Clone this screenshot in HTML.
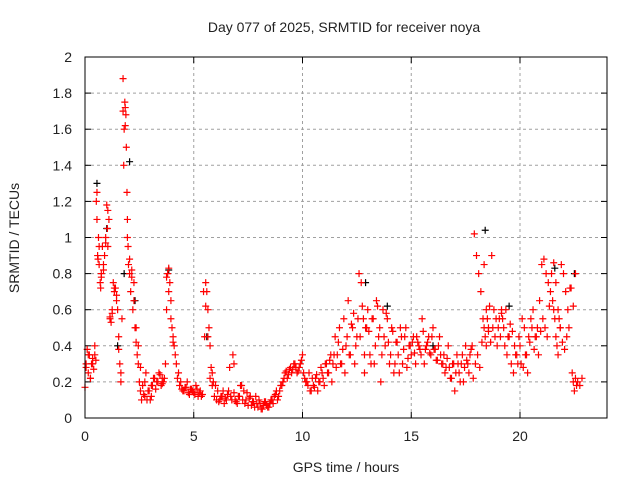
<!DOCTYPE html>
<html><head><meta charset="utf-8"><style>
body{margin:0;background:#fff}
svg text{font-family:"Liberation Sans",sans-serif;font-size:14px;fill:#222}
</style></head><body>
<svg id="c" width="640" height="480">
<text x="344" y="32" text-anchor="middle">Day 077 of 2025, SRMTID for receiver noya</text>
<text x="346" y="472" text-anchor="middle">GPS time / hours</text>
<text x="19" y="238" text-anchor="middle" transform="rotate(-90 19 238)">SRMTID / TECUs</text>
<g id="grid"></g><g id="ticks"></g><g id="pts"></g>
<rect x="85" y="57" width="522" height="361" fill="none" stroke="#000" stroke-width="1"/>
</svg>
<script>
const xTicks=[0,5,10,15,20];
const yTicks=[0,0.2,0.4,0.6,0.8,1,1.2,1.4,1.6,1.8,2];
const yTickLabels=["0","0.2","0.4","0.6","0.8","1","1.2","1.4","1.6","1.8","2"];
const redT=[0.0,0.05,0.1,0.15,0.2,0.25,0.3,0.35,0.4,0.45,0.5,0.52,0.55,0.58,0.6,0.62,0.65,0.7,0.72,0.75,0.8,0.85,0.9,0.95,1.0,1.03,1.05,1.1,1.15,1.2,1.25,1.3,1.35,1.4,1.45,1.5,1.55,1.6,1.65,1.7,1.75,1.78,1.8,1.83,1.85,1.88,1.9,1.93,1.95,1.98,2.0,2.05,2.1,2.15,2.2,2.25,2.3,2.35,2.4,2.45,2.5,2.55,2.6,2.7,2.75,2.8,2.9,3.0,3.05,3.1,3.2,3.3,3.4,3.5,3.55,3.6,3.7,3.75,3.8,3.85,3.9,3.95,4.0,4.05,4.1,4.2,4.3,4.4,4.5,4.6,4.7,4.8,4.9,5.0,5.1,5.2,5.3,5.4,5.5,5.55,5.6,5.65,5.7,5.75,5.8,5.85,5.9,6.0,6.1,6.2,6.3,6.4,6.5,6.6,6.7,6.8,6.85,6.9,7.0,7.1,7.2,7.3,7.4,7.5,7.6,7.7,7.8,7.9,8.0,8.1,8.2,8.3,8.4,8.5,8.6,8.7,8.8,8.9,9.0,9.1,9.2,9.3,9.4,9.5,9.6,9.7,9.8,9.9,10.0,10.1,10.2,10.3,10.4,10.5,10.6,10.7,10.8,10.9,11.0,11.1,11.2,11.3,11.4,11.5,11.6,11.7,11.8,11.9,12.0,12.1,12.2,12.3,12.4,12.5,12.6,12.7,12.8,12.85,12.9,13.0,13.1,13.2,13.3,13.4,13.5,13.6,13.7,13.8,13.9,14.0,14.1,14.2,14.3,14.4,14.5,14.6,14.7,14.8,14.9,15.0,15.1,15.2,15.3,15.4,15.5,15.6,15.7,15.8,15.9,16.0,16.1,16.2,16.3,16.4,16.5,16.6,16.7,16.8,16.9,17.0,17.1,17.2,17.3,17.4,17.5,17.6,17.7,17.8,17.9,18.0,18.1,18.2,18.3,18.35,18.4,18.45,18.5,18.55,18.6,18.7,18.8,18.9,19.0,19.1,19.15,19.2,19.3,19.4,19.5,19.6,19.7,19.8,19.9,20.0,20.1,20.2,20.3,20.4,20.5,20.6,20.7,20.8,20.9,21.0,21.1,21.2,21.3,21.4,21.5,21.55,21.6,21.65,21.7,21.75,21.8,21.85,21.9,22.0,22.1,22.2,22.3,22.4,22.45,22.5,22.55,22.6,22.65,22.7,22.75,22.8,22.85,22.9];
const redV=[0.17,0.3,0.38,0.25,0.35,0.22,0.3,0.33,0.27,0.35,0.32,1.2,1.1,0.9,0.88,1.0,0.85,0.75,0.72,0.8,0.95,0.82,0.9,0.97,1.18,1.05,0.95,1.1,0.56,0.53,0.6,0.75,0.7,0.72,0.65,0.6,0.45,0.3,0.2,0.55,1.88,1.4,1.6,1.75,1.72,1.68,1.5,1.25,1.0,0.95,0.85,0.8,0.7,0.82,0.6,0.75,0.5,0.42,0.35,0.3,0.2,0.15,0.1,0.13,0.2,0.25,0.15,0.1,0.12,0.18,0.22,0.2,0.25,0.18,0.22,0.2,0.3,0.6,0.8,0.83,0.75,0.65,0.5,0.45,0.4,0.3,0.25,0.2,0.15,0.17,0.2,0.13,0.16,0.14,0.18,0.12,0.15,0.13,0.45,0.75,0.7,0.6,0.5,0.4,0.28,0.25,0.2,0.18,0.15,0.1,0.12,0.08,0.1,0.15,0.12,0.35,0.3,0.1,0.08,0.12,0.18,0.15,0.1,0.07,0.12,0.09,0.06,0.08,0.1,0.05,0.07,0.09,0.06,0.08,0.1,0.12,0.15,0.12,0.18,0.2,0.25,0.22,0.27,0.25,0.3,0.28,0.26,0.3,0.35,0.22,0.2,0.25,0.15,0.18,0.22,0.15,0.2,0.25,0.18,0.3,0.25,0.35,0.3,0.45,0.35,0.5,0.3,0.55,0.4,0.65,0.35,0.5,0.3,0.45,0.8,0.75,0.55,0.25,0.5,0.6,0.35,0.55,0.3,0.65,0.45,0.2,0.6,0.4,0.55,0.3,0.5,0.25,0.42,0.35,0.5,0.3,0.45,0.28,0.4,0.35,0.45,0.3,0.42,0.38,0.55,0.3,0.4,0.45,0.35,0.5,0.38,0.32,0.45,0.3,0.35,0.28,0.4,0.22,0.3,0.15,0.35,0.25,0.3,0.2,0.4,0.3,0.35,0.4,1.02,0.9,0.8,0.7,0.55,0.5,0.45,0.4,0.55,0.5,0.62,0.9,0.6,0.55,0.5,0.45,0.6,0.55,0.4,0.35,0.45,0.3,0.25,0.35,0.3,0.4,0.55,0.5,0.35,0.45,0.55,0.6,0.45,0.5,0.65,0.85,0.88,0.8,0.75,0.7,0.65,0.6,0.55,0.45,0.4,0.35,0.55,0.5,0.85,0.8,0.7,0.6,0.72,0.25,0.2,0.15,0.22,0.18];
const redT2=[0.05,0.15,0.25,0.35,0.45,0.55,0.65,0.75,0.85,0.95,1.05,1.15,1.25,1.35,1.45,1.55,1.65,1.75,1.85,1.95,2.05,2.15,2.25,2.35,2.45,2.55,2.65,2.75,2.85,2.95,3.05,3.15,3.25,3.35,3.45,3.55,3.65,3.75,3.85,3.95,4.05,4.15,4.25,4.35,4.45,4.55,4.65,4.75,4.85,4.95,5.05,5.15,5.25,5.35,5.45,5.55,5.65,5.75,5.85,5.95,6.05,6.15,6.25,6.35,6.45,6.55,6.65,6.75,6.85,6.95,7.05,7.15,7.25,7.35,7.45,7.55,7.65,7.75,7.85,7.95,8.05,8.15,8.25,8.35,8.45,8.55,8.65,8.75,8.85,8.95,9.05,9.15,9.25,9.35,9.45,9.55,9.65,9.75,9.85,9.95,10.05,10.15,10.25,10.35,10.45,10.55,10.65,10.75,10.85,10.95,11.05,11.15,11.25,11.35,11.45,11.55,11.65,11.75,11.85,11.95,12.05,12.15,12.25,12.35,12.45,12.55,12.65,12.75,12.85,12.95,13.05,13.15,13.25,13.35,13.45,13.55,13.65,13.75,13.85,13.95,14.05,14.15,14.25,14.35,14.45,14.55,14.65,14.75,14.85,14.95,15.05,15.15,15.25,15.35,15.45,15.55,15.65,15.75,15.85,15.95,16.05,16.15,16.25,16.35,16.45,16.55,16.65,16.75,16.85,16.95,17.05,17.15,17.25,17.35,17.45,17.55,17.65,17.75,17.85,17.95,18.05,18.15,18.25,18.35,18.45,18.55,18.65,18.75,18.85,18.95,19.05,19.15,19.25,19.35,19.45,19.55,19.65,19.75,19.85,19.95,20.05,20.15,20.25,20.35,20.45,20.55,20.65,20.75,20.85,20.95,21.05,21.15,21.25,21.35,21.45,21.55,21.65,21.75,21.85,21.95,22.05,22.15,22.25,22.35,22.45,22.55,22.65,22.75,22.85];
const redV2=[0.28,0.35,0.22,0.3,0.4,1.25,0.95,0.78,0.85,1.0,1.15,0.55,0.58,0.72,0.68,0.38,0.25,1.7,1.62,1.1,0.88,0.78,0.65,0.5,0.4,0.28,0.18,0.12,0.1,0.15,0.18,0.22,0.16,0.2,0.24,0.19,0.22,0.78,0.7,0.55,0.42,0.35,0.22,0.18,0.16,0.15,0.17,0.14,0.16,0.15,0.13,0.16,0.14,0.12,0.7,0.62,0.45,0.22,0.18,0.12,0.1,0.09,0.12,0.15,0.11,0.13,0.28,0.1,0.14,0.09,0.12,0.18,0.1,0.08,0.14,0.11,0.07,0.09,0.12,0.06,0.08,0.05,0.09,0.07,0.06,0.1,0.08,0.13,0.1,0.15,0.18,0.22,0.26,0.24,0.28,0.27,0.3,0.25,0.28,0.32,0.25,0.2,0.18,0.15,0.22,0.17,0.24,0.2,0.28,0.22,0.3,0.25,0.32,0.2,0.35,0.28,0.42,0.3,0.38,0.25,0.45,0.35,0.52,0.58,0.4,0.55,0.45,0.62,0.35,0.5,0.48,0.3,0.55,0.4,0.62,0.5,0.35,0.45,0.58,0.42,0.35,0.48,0.3,0.42,0.25,0.45,0.38,0.5,0.33,0.4,0.42,0.36,0.45,0.4,0.35,0.48,0.38,0.42,0.36,0.45,0.38,0.32,0.4,0.35,0.3,0.25,0.33,0.28,0.22,0.3,0.25,0.3,0.2,0.35,0.28,0.32,0.25,0.38,0.22,0.3,0.35,0.28,0.42,0.85,0.6,0.48,0.42,0.5,0.45,0.4,0.55,0.58,0.5,0.6,0.45,0.52,0.48,0.4,0.35,0.45,0.3,0.28,0.35,0.25,0.42,0.5,0.38,0.45,0.35,0.48,0.55,0.5,0.45,0.62,0.8,0.86,0.75,0.6,0.5,0.42,0.38,0.45,0.5,0.72,0.62,0.8,0.2,0.18,0.22];
const blackT=[0.55,1.0,1.5,1.8,2.05,2.3,3.85,5.6,8.5,12.9,13.9,16.0,18.4,19.5,21.6,22.5];
const blackV=[1.3,1.05,0.4,0.8,1.42,0.65,0.82,0.45,0.08,0.75,0.62,0.4,1.04,0.62,0.83,0.8];
const X0=85,X1=607,Y0=418,Y1=57,XMAX=24,YMAX=2;
const sx=t=>X0+(X1-X0)*t/XMAX, sy=v=>Y0-(Y0-Y1)*v/YMAX;
const NS="http://www.w3.org/2000/svg";
const grid=document.getElementById('grid'),ticks=document.getElementById('ticks'),pts=document.getElementById('pts');
function mk(tag,a,p){const e=document.createElementNS(NS,tag);for(const k in a)e.setAttribute(k,a[k]);p.appendChild(e);return e;}
xTicks.forEach(t=>{const x=sx(t);
 const g=mk('line',{x1:x,x2:x,y1:Y0,y2:Y1,stroke:'#a0a0a0','stroke-dasharray':'3,3'},grid);
 
 
 const l=mk('text',{x:x,y:Y0+23,'text-anchor':'middle'},ticks);l.textContent=t;
 
 
 mk('line',{x1:x,x2:x,y1:Y0,y2:Y0-6,stroke:'#000'},ticks);mk('line',{x1:x,x2:x,y1:Y1,y2:Y1+6,stroke:'#000'},ticks);});
yTicks.forEach((v,i)=>{const y=sy(v);
 const g=mk('line',{x1:X0,x2:X1,y1:y,y2:y,stroke:'#a0a0a0','stroke-dasharray':'3,3'},grid);
 
 
 const l=mk('text',{x:72,y:y+5,'text-anchor':'end'},ticks);l.textContent=yTickLabels[i];
 
 
 mk('line',{x1:X0,x2:X0+6,y1:y,y2:y,stroke:'#000'},ticks);mk('line',{x1:X1,x2:X1-6,y1:y,y2:y,stroke:'#000'},ticks);});
function plus(t,v,c,name){const x=sx(t),y=sy(v);
 const p=mk('path',{d:`M${x-3.5},${y}h7M${x},${y-3.5}v7`,stroke:c,'stroke-width':1.2,fill:'none'},pts);
 
 }
blackT.forEach((t,i)=>plus(t,blackV[i],'#000','black-point'));
redT.forEach((t,i)=>plus(t,redV[i],'#ff0000','red-point'));
redT2.forEach((t,i)=>plus(t,redV2[i],'#ff0000','red-point'));
</script>
</body></html>
